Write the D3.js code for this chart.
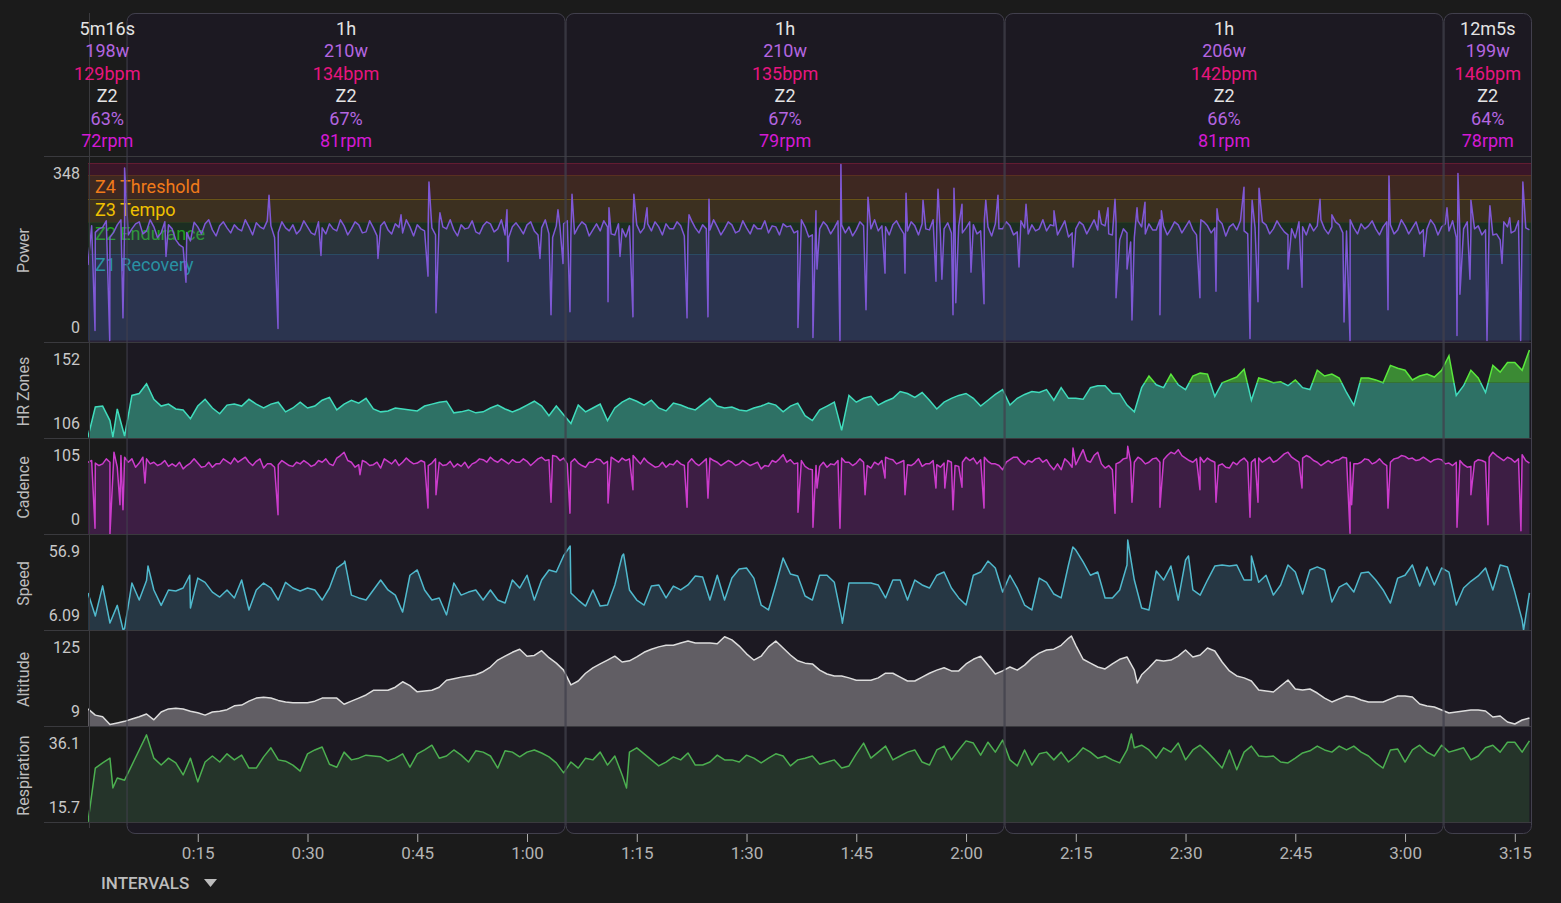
<!DOCTYPE html>
<html>
<head>
<meta charset="utf-8">
<script src="https://cdn.jsdelivr.net/npm/d3@7"></script>
<style>
  body { margin: 0; background: #1b1b1b; }
  svg { display: block; font-family: Roboto, "Noto Sans", sans-serif; }
</style>
</head>
<body>
<svg id="chart" width="1561" height="903"></svg>
<script>
// ---- data (one sample per minute, half-minute for the jagged ones, plus narrow spikes) ----

var intervalStart = [0, 5.267, 65.267, 125.267, 185.267];
var intervalEnd   = [5.267, 65.267, 125.267, 185.267, 197.35];
var intervalTime  = ["5m16s", "1h", "1h", "1h", "12m5s"];
var intervalWatts = [198, 210, 210, 206, 199];
var intervalBpm   = [129, 134, 135, 142, 146];
var intervalZone  = ["Z2", "Z2", "Z2", "Z2", "Z2"];
var intervalPct   = [63, 67, 67, 66, 64];
var intervalRpm   = [72, 81, 79, 81, 78];

var tickMinutes = [15, 30, 45, 60, 75, 90, 105, 120, 135, 150, 165, 180, 195];
var tickLabels  = ["0:15", "0:30", "0:45", "1:00", "1:15", "1:30", "1:45", "2:00", "2:15", "2:30", "2:45", "3:00", "3:15"];

var panelNames    = ["Power", "HR Zones", "Cadence", "Speed", "Altitude", "Respiration"];
var panelTopLabel = ["348", "152", "105", "56.9", "125", "36.1"];
var panelLowLabel = ["0", "106", "0", "6.09", "9", "15.7"];

var ftp = 313;
var powerZonePct  = [0, 0.55, 0.75, 0.90, 1.05, 1.20];
var powerZoneName = ["Z1 Recovery", "Z2 Endurance", "Z3 Tempo", "Z4 Threshold", ""];
var hrZoneThreshold = 134.5;

var power = [150,215,225,205,230,228,222,236,218,226,
  214,230,200,185,198,226,232,220,228,224,
  230,218,226,234,222,228,215,224,230,220,
  226,210,224,232,218,228,222,230,216,224,
  228,220,232,214,226,230,218,224,236,222,
  220,230,224,216,228,232,222,210,226,224,
  230,218,224,212,228,232,214,226,230,220,
  218,226,210,222,228,230,224,218,226,232,
  222,228,216,224,230,220,226,222,230,218,
  224,230,222,214,226,232,228,218,226,210,
  222,228,224,230,226,220,228,222,218,226,
  230,224,218,228,232,220,226,222,214,228,
  224,230,218,226,232,222,228,216,224,230,
  222,218,228,224,206,222,230,226,220,228,
  210,200,214,205,226,232,220,228,222,230,
  226,220,214,228,224,232,226,220,218,228,
  224,230,222,226,210,204,226,232,228,222,
  226,230,218,224,232,228,222,226,230,220,
  228,224,212,222,230,226,218,205,222,215,
  228,220,210,200,226,218,222,220];
// samples at minute + 0.5
var powerHalf = [228,222,238,215,240,210,232,212,240,205,
  236,222,190,215,235,212,240,208,236,214,
  222,240,210,226,238,205,236,218,212,238,
  214,236,212,222,240,210,236,214,238,208,
  236,212,225,240,208,222,238,210,226,240,
  208,222,238,212,236,216,240,205,234,212,
  236,210,240,205,226,238,212,236,208,232,
  238,212,232,206,240,214,232,236,210,222,
  236,208,238,214,222,240,210,236,214,238,
  212,222,238,228,210,226,214,240,206,234,
  236,212,238,214,208,236,214,240,228,210,
  238,212,236,210,222,240,212,234,238,214,
  236,212,240,208,222,236,210,238,212,218,
  240,230,210,238,214,236,212,240,232,212,
  236,222,196,238,212,220,240,210,236,214,
  238,210,236,214,240,208,232,238,212,224,
  236,212,238,216,222,236,210,218,240,212,
  236,214,240,212,222,238,210,236,212,240,
  212,236,220,240,210,232,238,212,236,222,
  210,238,212,236,214,238,224];
var powerSpikes = [[0.96,20],[2.97,0],[4.78,45],[5.0,343],[10.66,167],[13.39,116],[24.74,289],[25.97,24],
  [31.84,169],[39.63,163],[42.78,250],[46.47,128],[46.6,315],[47.56,55],[48.1,254],[57.26,260],[57.4,157],
  [61.77,163],[63.28,51],[64.23,260],[64.92,153],[65.87,57],[66.15,291],[71.07,77],[71.2,264],[72.71,167],
  [74.48,47],[74.6,291],[76.4,264],[81.87,45],[82.14,250],[84.73,47],[84.87,281],[97.03,26],[99.08,6],
  [99.49,258],[99.63,142],[102.77,0],[102.9,350],[106.33,61],[106.6,285],[108.93,134],[111.66,134],
  [111.8,293],[114.12,279],[115.89,118],[116.17,301],[116.7,122],[118.22,51],[118.35,303],[118.6,75],
  [119.45,271],[120.68,136],[122.46,73],[122.7,279],[124.37,289],[127.24,146],[128.2,271],[132.02,258],
  [134.62,146],[138.17,258],[139.4,264],[140.36,281],[140.5,85],[142.0,142],[142.68,41],[143.37,264],
  [144.46,275],[146.5,51],[146.7,258],[151.97,85],[152.1,240],[154.16,98],[154.3,262],[157.99,305],
  [158.81,4],[159.1,279],[159.9,77],[160.04,303],[164.0,142],[165.92,106],[168.38,281],[170.0,250],
  [171.66,37],[172.48,0],[177.67,61],[177.8,327],[182.59,167],[185.73,264],[187.1,10],[187.23,332],
  [187.5,92],[188.87,122],[189.0,279],[191.2,0],[191.6,268],[193.25,153],[194.3,244],[195.8,0],[196.1,315]];

var heartRate = [106.5,122,122.5,115,121,107,128,129,134,126,
  122.5,123.5,121,120.5,116,122.5,126,121.5,118.5,123,
  123.5,122.5,126,123.5,121.5,123.5,124.5,119.5,121.5,124.5,
  121.5,122.5,125.5,127,120.5,123.5,125.5,124,126.5,121,
  119.5,120,121.5,121,120.5,120,122.5,123.5,124.5,125,
  119,119.5,120.5,119,119.5,121.5,123,121,119.5,121,
  123,125,122.5,117.5,122.5,118,113.5,123,119.5,121.5,
  123.5,115,121.5,124.5,126.5,125,123,125.5,121.5,120,
  124,123,121.5,120.5,123.5,126.5,122.5,121.5,122,120.5,
  120,121.5,122.5,124,123,119.5,122.5,124,117.5,115,
  120.5,122.5,124.5,110,128,124.5,126.5,127.5,123,125,
  126.5,130,129,127,129.5,125.5,121,124.5,126.5,128,
  129,126.5,122.5,125.5,128.5,131,123,126.5,128.5,130,
  129.5,131,125.5,132,126.5,126.5,126,132,133,133,
  129,129,123,119.5,132,138,133.5,132,139,133.5,
  131,138,139.5,139,127.5,134.5,136,137.5,141.5,125.5,
  137,136,134.5,135,133,136,132,131,141,138,
  139,137,129.5,123,137,137,136,134.5,143.5,142,
  141,136,138,139,137.5,141,148.5,128,133,141,
  137,129.5,143.5,140,145,145,141,151.5];
var heartRateSpikes = [[3.4,106.5]];

var cadence = [86,85,84,86,80,92,90,85,90,86,
  84,81,81,78,85,85,81,80,84,87,
  91,89,86,87,79,84,83,85,81,84,
  85,83,86,84,91,98,86,83,86,83,
  79,87,89,86,87,85,86,85,86,83,
  80,81,79,86,89,92,86,87,89,86,
  87,86,92,89,93,91,86,85,80,86,
  89,87,89,91,90,89,91,83,81,80,
  83,84,85,85,86,91,86,85,86,84,
  85,84,78,81,86,95,89,85,81,77,
  81,80,83,91,86,85,86,79,83,92,
  89,86,83,85,81,84,83,85,86,81,
  92,91,89,87,84,77,89,92,83,86,
  91,89,77,77,86,83,101,86,98,79,
  77,86,91,86,89,86,91,89,98,101,
  91,86,92,91,86,84,79,83,91,86,
  91,89,86,92,98,89,91,92,86,85,
  85,89,91,84,86,89,86,85,86,91,
  93,91,89,89,89,89,85,86,83,81,
  89,86,98,91,92,86,95,85];
// samples at minute + 0.5
var cadenceHalf = [88,82,90,88,94,86,80,92,84,82,
  88,84,86,82,90,80,86,84,90,84,
  86,92,82,90,84,80,88,82,86,88,
  81,88,90,82,94,88,80,88,82,86,
  90,84,82,91,84,88,82,90,82,87,
  84,86,84,90,86,88,90,84,86,90,
  82,90,88,94,88,84,90,82,86,90,
  84,92,86,88,94,84,86,80,86,84,
  88,82,90,82,90,88,82,88,82,88,
  82,86,82,88,90,86,84,88,78,82,
  86,84,88,86,82,90,82,86,88,90,
  84,88,82,90,84,88,80,88,82,86,
  88,84,92,84,82,86,92,86,88,90,
  86,82,84,90,80,92,88,94,84,82,
  84,90,86,92,84,90,86,94,96,94,
  88,90,86,88,82,80,86,88,86,90,
  86,92,88,96,92,86,94,88,82,88,
  88,92,86,84,90,84,90,82,90,94,
  90,88,92,86,90,84,82,88,80,86,
  88,92,94,88,90,90,88];
var cadenceSpikes = [[0.96,7],[3.0,0],[3.55,98],[4.37,35],[4.78,29],[7.79,61],[25.97,23],[37.17,71],
  [46.47,31],[47.56,47],[63.28,38],[65.87,25],[71.07,37],[74.48,53],[81.87,32],[84.73,43],[97.03,26],
  [99.08,8],[99.63,55],[102.77,7],[106.2,47],[108.93,67],[111.66,47],[115.89,55],[117.1,55],[118.22,29],
  [119.45,56],[122.46,31],[134.62,103],[140.36,25],[142.1,105],[142.68,38],[146.5,32],[151.97,53],
  [154.16,38],[158.81,20],[159.9,38],[165.92,55],[172.48,1],[172.7,35],[177.67,31],[187.1,8],[189.0,47],
  [191.33,11],[195.84,4]];

var speed = [27,14,31,10,20,7,32.6,23,34,28.7,
  20,28.7,28.1,29.8,18.5,35.4,33,27.5,24.7,28.7,
  24.2,34.3,17.4,28.7,32.6,29.8,23,33,29.8,28.1,
  29.8,28.7,23,29.8,41,44,25.8,24.2,23,28.7,
  34.3,28.7,25.8,16.2,37,40,28.7,23,24.2,14.6,
  32.6,25.8,27.5,28.7,23,28.7,23,21.3,34.3,29.8,
  37,23,34.3,40,38.8,48,27,23,19.6,28.7,
  19.6,20.2,31.5,47.9,28.7,23,20.2,30.9,31.5,24.2,
  30.9,28.7,31.5,36.6,36,23,37,23,35.4,40.5,
  41.1,35.4,20.2,17.4,31.5,46.7,37.7,36.6,25.3,23,
  37,37,33,12.9,32.6,32.6,32.6,32.6,31.5,24.2,
  34.3,34.3,23,34.3,31.5,29.8,37,38.8,29.8,24.2,
  20.2,37,38.8,45,41.1,27.5,37,29.8,20.2,17.4,
  35.4,33,26.4,24.2,42.8,51.2,44.5,37,38.8,24.2,
  24.2,28.7,42.8,34.3,18.5,17.4,39.4,34.3,42.2,23,
  45.6,28.7,25.8,34.3,42.2,42.8,42.2,42.8,34.3,34.3,
  33,37,25.8,31.5,42.8,38.8,26.4,40,41.7,40,
  21.9,30.3,32.6,27.5,38.3,38.8,34.3,28.7,21.3,35.4,
  37,42.8,30.9,41.7,31.5,41.1,38.8,20.2,29.8,33.6,
  36.6,41.1,28.7,42.8,41.7,27.5,11.7,27];
var speedSpikes = [[4.8,6.1],[8.2,42.2],[13.9,37],[35.1,45],[65.9,53.5],[73.2,49],[103.1,9.9],
  [134.6,53],[142.1,56.9],[150.4,47.9],[159,47.9],[196.2,6.1]];

var altitude = [31,23,21,11,13,15,18,21,24.5,17,
  27,31,32,31,28,26,23,27,28,30,
  35,36,41,45,46,45,42,40,39,39,
  39,41,45,45,45,37,41,45,49,55,
  55,55,59,66,61,53,54,55,59,68,
  70,72,73.5,75,79,85,94,99,104,108,
  99,100,106,97,90,81,62,67,77,84,
  89,94,99,91.5,93,98,104,108,111,113,
  113,116,118.5,116,116,116,115,124,120,112,
  102,94,99,111,118.5,109.5,100.5,93,90,89,
  81,76,73.5,73.5,71,68,68,68,71,77,
  77,72,67,67,72,77,81,84,80,80,
  89,95,99,87.5,76,80,85,81,87.5,96.5,
  103,107,108,113,122,113,95,90,85,82.5,
  89,95,98,81,75,84,94,92.8,94,99,
  107,98,100.5,109.5,105.7,91.5,80,73.5,71,67,
  55.4,54,52.8,60.6,68.3,56.7,55.4,56.7,51.5,45,
  40,44,47.7,46.4,42.5,40,40,40,44,47.7,
  47.7,46.4,37.4,34.8,33.5,29.6,25.8,27,28.3,29.6,
  29.6,28.3,20.6,21.9,14.2,11.6,16.7,19.3];
var altitudeSpikes = [[134.4,125],[143.4,64.4]];

var respiration = [15.7,28.2,29.4,30.5,25.9,25.4,28.9,32.4,35.9,30.5,
  28.9,30.5,29.4,26.6,30.5,25,29.6,31,29.6,31.5,
  30.1,31.2,28.2,28.2,30.8,32.9,30.1,29.8,28.9,27.5,
  31.5,32.4,33.1,29.1,28.4,31.9,30.1,30.5,31.2,31,
  30.8,29.8,30.5,31.5,28.4,31.5,32.4,33.5,30.5,31,
  32.4,31.2,29.6,32.2,31.9,31,28.2,32.2,31.9,30.8,
  31.9,32.4,31.7,30.8,29.4,27.1,29.6,28.2,30.5,30.1,
  31.9,28.9,31,26.6,31.9,32.9,31.5,30.1,28.7,29.6,
  30.8,30.1,31.7,28.9,28.9,29.6,31.2,30.1,30.1,29.6,
  31.2,30.5,29.4,30.5,31.5,31,28.7,30.1,30.5,31,
  29.1,29.6,30.1,28.2,28.7,31.5,34,30.5,31.9,33.3,
  30.1,31,31.9,32.4,29.6,28.9,32.4,33.3,30.1,32.4,
  34.5,34,31.2,34.2,31.9,34.7,30.1,28.7,32.4,28.9,
  31.5,31.9,30.1,31.9,29.6,31,32.9,31.9,30.5,31,
  30.1,29.4,32.4,32.9,33.5,32.4,30.5,32.9,31.9,34,
  30.1,32.4,33.5,31.9,30.1,28.2,32.4,27.8,31.9,33.3,
  31,30.8,31,29.6,29.4,30.5,31.7,32.2,33.3,32.4,
  31.9,33.3,32.4,33.3,31.9,31,29.4,28.2,32.4,32.6,
  29.6,32.4,33.5,31.9,31,33.5,31.9,32.4,32.9,30.1,
  31,32.9,33.5,31.9,34.2,34.2,31.9,34.5];
var respirationSpikes = [[3.4,23.6],[73.6,23.6],[142.6,36.1]];

// ---- drawing ----

var svg = d3.select("#chart");
var W = 1561, H = 903;
var plotLeft = 88, plotRight = 1532;

var x = d3.scaleLinear().domain([0, 197.35]).range([plotLeft, plotRight]);

svg.append("rect").attr("width", W).attr("height", H).attr("fill", "#1b1b1b");

var panels = [
  {top: 157, bottom: 342, domain: [0, 353], range: [340.5, 163], values: power, half: powerHalf, spikes: powerSpikes,
   line: "#7f58d6", fill: "rgba(125,85,210,0.15)"},
  {top: 343, bottom: 438, domain: [106, 153], range: [438, 347], values: heartRate, spikes: heartRateSpikes,
   line: "#40dcbc", fill: "#2e7165", hiLine: "#5ae83c", hiFill: "#3b8a34"},
  {top: 439, bottom: 534, domain: [0, 109], range: [534, 443], values: cadence, half: cadenceHalf, spikes: cadenceSpikes,
   line: "#cc3ccc", fill: "#3d1e44"},
  {top: 535, bottom: 630, domain: [6.09, 56.9], range: [630, 540], values: speed, spikes: speedSpikes,
   line: "#50b9cd", fill: "#263744"},
  {top: 631, bottom: 726, domain: [9, 125], range: [726, 636], values: altitude, spikes: altitudeSpikes,
   line: "#dcdcdc", fill: "#615e64"},
  {top: 727, bottom: 822, domain: [15.7, 36.1], range: [822, 734], values: respiration, spikes: respirationSpikes,
   line: "#4caf50", fill: "#25342a"}
];

// interval boxes (fill only, borders go on top later)
var boxTop = 13, boxBottom = 833;
var boxes = svg.append("g");
for (var i = 1; i < intervalStart.length; i++) {
  boxes.append("rect")
    .attr("x", x(intervalStart[i]) + 0.5).attr("y", boxTop + 0.5)
    .attr("width", x(intervalEnd[i]) - x(intervalStart[i]) - 1)
    .attr("height", boxBottom - boxTop)
    .attr("rx", 8).attr("fill", "#1c1922");
}

function points(vals, half, spikes) {
  var p = vals.map(function(v, i) { return [i, v]; });
  (half || []).forEach(function(v, i) { p.push([i + 0.5, v]); });
  spikes.forEach(function(s) { p.push(s); });
  p.sort(function(a, b) { return a[0] - b[0]; });
  return p;
}

panels.forEach(function(p, k) {
  var y = d3.scaleLinear().domain(p.domain).range(p.range).clamp(true);
  var g = svg.append("g");
  var clipId = "clip" + k;
  svg.append("clipPath").attr("id", clipId).append("rect")
    .attr("x", plotLeft).attr("y", p.top).attr("width", plotRight - plotLeft).attr("height", p.bottom - p.top);
  g.attr("clip-path", "url(#" + clipId + ")");

  if (k === 0) {
    // power zone bands
    var bandColors = ["#1d2e39", "#1c2e22", "#3c3020", "#3e2821", "#3a1628"];
    var zoneText = ["#1a9c9c", "#22a022", "#f0c000", "#f07a1a", "#e03050"];
    for (var z = 0; z < 5; z++) {
      var lo = powerZonePct[z] * ftp, hi = powerZonePct[z + 1] * ftp;
      g.append("rect").attr("x", plotLeft).attr("width", plotRight - plotLeft)
        .attr("y", y(hi)).attr("height", y(lo) - y(hi)).attr("fill", bandColors[z]);
      g.append("line").attr("x1", plotLeft).attr("x2", plotRight)
        .attr("y1", Math.round(y(hi)) + 0.5).attr("y2", Math.round(y(hi)) + 0.5)
        .attr("stroke", zoneText[z]).attr("stroke-opacity", 0.25);
    }
    for (var z2 = 0; z2 < 4; z2++) {
      g.append("text").attr("x", 95).attr("y", y(powerZonePct[z2 + 1] * ftp) + 11)
        .attr("dominant-baseline", "central").attr("font-size", 18)
        .attr("fill", zoneText[z2]).text(powerZoneName[z2]);
    }
  }

  var data = points(p.values, p.half, p.spikes);
  var area = d3.area().x(function(d) { return x(d[0]); }).y0(p.bottom).y1(function(d) { return y(d[1]); });
  var line = d3.line().x(function(d) { return x(d[0]); }).y(function(d) { return y(d[1]); });

  if (p.hiLine) {
    var thr = y(hrZoneThreshold);
    svg.append("clipPath").attr("id", "hrLow").append("rect")
      .attr("x", plotLeft).attr("y", thr).attr("width", plotRight - plotLeft).attr("height", p.bottom - thr);
    svg.append("clipPath").attr("id", "hrHigh").append("rect")
      .attr("x", plotLeft).attr("y", p.top).attr("width", plotRight - plotLeft).attr("height", thr - p.top);
    var low = g.append("g").attr("clip-path", "url(#hrLow)");
    var high = g.append("g").attr("clip-path", "url(#hrHigh)");
    low.append("path").datum(data).attr("d", area).attr("fill", p.fill);
    high.append("path").datum(data).attr("d", area).attr("fill", p.hiFill);
    low.append("path").datum(data).attr("d", line).attr("fill", "none").attr("stroke", p.line).attr("stroke-width", 1.5);
    high.append("path").datum(data).attr("d", line).attr("fill", "none").attr("stroke", p.hiLine).attr("stroke-width", 1.5);
  } else {
    g.append("path").datum(data).attr("d", area).attr("fill", p.fill);
    g.append("path").datum(data).attr("d", line).attr("fill", "none")
      .attr("stroke", p.line).attr("stroke-width", 1.5).attr("stroke-linejoin", "round");
  }

  // side label and min / max labels
  svg.append("text")
    .attr("transform", "translate(23," + ((p.top + p.bottom) / 2 + 1) + ") rotate(-90)")
    .attr("text-anchor", "middle").attr("dominant-baseline", "central")
    .attr("font-size", 16).attr("fill", "#bdbdbd").text(panelNames[k]);
  svg.append("text").attr("x", 80).attr("y", p.top + 16)
    .attr("text-anchor", "end").attr("dominant-baseline", "central")
    .attr("font-size", 16).attr("fill", "#c8c8c8").text(panelTopLabel[k]);
  svg.append("text").attr("x", 80).attr("y", p.bottom - 15)
    .attr("text-anchor", "end").attr("dominant-baseline", "central")
    .attr("font-size", 16).attr("fill", "#c8c8c8").text(panelLowLabel[k]);
});

// panel separators
var seps = [156, 342, 438, 534, 630, 726, 822];
seps.forEach(function(s) {
  svg.append("line").attr("x1", 44).attr("x2", plotRight)
    .attr("y1", s + 0.5).attr("y2", s + 0.5).attr("stroke", "#3a3a3e");
});

// interval borders on top
for (var j = 1; j < intervalStart.length; j++) {
  svg.append("rect")
    .attr("x", x(intervalStart[j]) + 0.5).attr("y", boxTop + 0.5)
    .attr("width", x(intervalEnd[j]) - x(intervalStart[j]) - 1)
    .attr("height", boxBottom - boxTop)
    .attr("rx", 8).attr("fill", "none").attr("stroke", "#42404d");
}
svg.append("line").attr("x1", x(0) + 1.5).attr("x2", x(0) + 1.5)
  .attr("y1", boxTop).attr("y2", 828).attr("stroke", "#3a3a3e");

// interval header texts
var headRows = [
  {y: 28, color: "#e4e4e4", get: function(i) { return intervalTime[i]; }},
  {y: 50, color: "#b466e0", get: function(i) { return intervalWatts[i] + "w"; }},
  {y: 73, color: "#e8157f", get: function(i) { return intervalBpm[i] + "bpm"; }},
  {y: 95, color: "#e4e4e4", get: function(i) { return intervalZone[i]; }},
  {y: 118, color: "#b466e0", get: function(i) { return intervalPct[i] + "%"; }},
  {y: 140, color: "#d41ad4", get: function(i) { return intervalRpm[i] + "rpm"; }}
];
intervalStart.forEach(function(s, i) {
  var cx = x((s + intervalEnd[i]) / 2);
  headRows.forEach(function(r) {
    svg.append("text").attr("x", cx).attr("y", r.y)
      .attr("text-anchor", "middle").attr("dominant-baseline", "central")
      .attr("font-size", 18).attr("fill", r.color).text(r.get(i));
  });
});

// time axis
var axis = d3.axisBottom(x).tickValues(tickMinutes)
  .tickFormat(function(d, i) { return tickLabels[i]; })
  .tickSize(8).tickPadding(5);
var ag = svg.append("g").attr("transform", "translate(0,834)").call(axis);
ag.select(".domain").remove();
ag.selectAll(".tick line").attr("stroke", "#b0b0b0");
ag.selectAll(".tick text").attr("fill", "#b4b4b4").attr("font-size", 17)
  .attr("font-family", "Roboto, sans-serif");

// intervals menu
svg.append("text").attr("x", 101).attr("y", 883).attr("dominant-baseline", "central")
  .attr("font-size", 17).attr("font-weight", 500).attr("fill", "#bdbdbd").text("INTERVALS");
svg.append("path").attr("d", "M204,879 L217,879 L210.5,887 Z").attr("fill", "#bdbdbd");
</script>
</body>
</html>
